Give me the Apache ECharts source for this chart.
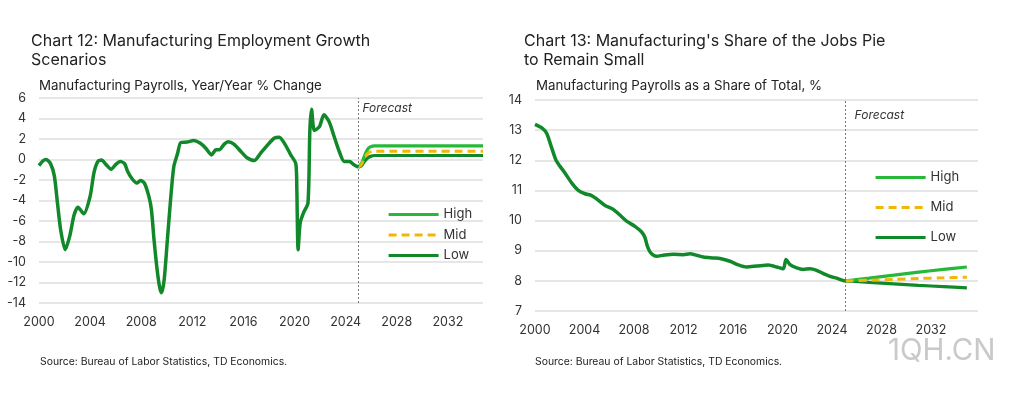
<!DOCTYPE html>
<html><head><meta charset="utf-8">
<script src="https://cdn.jsdelivr.net/npm/echarts@6/dist/echarts.min.js"></script>
<style>html,body{margin:0;padding:0;background:#fff}#c{width:1012px;height:396px}</style>
</head><body><div id="c"></div>
<script>
// ---- Chart 12 data: Manufacturing payrolls, y/y % change ----
var leftYears = [2000.0, 2000.3, 2000.55, 2000.9, 2001.2, 2001.45, 2001.7, 2002.05, 2002.4, 2002.75, 2003.05, 2003.5, 2004.0, 2004.3, 2004.6, 2004.9, 2005.25, 2005.65, 2006.0, 2006.35, 2006.7, 2006.95, 2007.3, 2007.65, 2007.95, 2008.25, 2008.6, 2008.8, 2009.0, 2009.25, 2009.45, 2009.6, 2009.8, 2010.05, 2010.3, 2010.55, 2010.85, 2011.1, 2011.6, 2012.1, 2012.6, 2013.05, 2013.5, 2013.85, 2014.1, 2014.5, 2014.8, 2015.25, 2015.8, 2016.25, 2016.85, 2017.35, 2017.9, 2018.4, 2018.8, 2019.2, 2019.7, 2020.1, 2020.18, 2020.28, 2020.44, 2020.7, 2021.05, 2021.2, 2021.33, 2021.55, 2021.95, 2022.3, 2022.7, 2023.1, 2023.5, 2023.9, 2024.3, 2024.65, 2025.0];
var leftValues = [-0.6, -0.15, 0.0, -0.4, -1.6, -4.3, -6.9, -8.8, -7.5, -5.4, -4.65, -5.3, -3.6, -1.3, -0.2, -0.05, -0.5, -0.95, -0.5, -0.2, -0.4, -1.2, -1.9, -2.3, -2.05, -2.3, -3.6, -4.9, -7.8, -10.8, -12.5, -13.0, -11.7, -7.8, -3.9, -0.7, 0.6, 1.66, 1.7, 1.85, 1.6, 1.1, 0.45, 0.94, 0.94, 1.5, 1.72, 1.5, 0.78, 0.2, -0.1, 0.62, 1.43, 2.08, 2.18, 1.6, 0.46, -0.42, -2.96, -8.8, -6.2, -5.2, -4.26, 2.9, 4.9, 2.83, 3.2, 4.36, 3.7, 2.24, 0.78, -0.2, -0.2, -0.52, -0.75];
var leftFcYears = [2025.0, 2025.25, 2025.5, 2025.75, 2026.0, 2026.25, 2034.75];
var leftHigh = [-0.75, -0.35, 0.45, 1.05, 1.27, 1.33, 1.33];
var leftMid  = [-0.75, -0.45, 0.2, 0.62, 0.77, 0.81, 0.81];
var leftLow  = [-0.75, -0.6, -0.15, 0.18, 0.33, 0.39, 0.39];

// ---- Chart 13 data: Manufacturing payrolls as share of total, % ----
var rightYears = [2000.0, 2000.6, 2000.95, 2001.35, 2001.7, 2001.97, 2002.42, 2002.96, 2003.5, 2004.04, 2004.58, 2004.98, 2005.66, 2006.33, 2006.81, 2007.4, 2008.08, 2008.62, 2008.89, 2009.08, 2009.35, 2009.83, 2010.37, 2011.18, 2011.99, 2012.53, 2013.06, 2013.6, 2014.41, 2014.95, 2015.76, 2016.43, 2017.1, 2017.91, 2018.86, 2019.53, 2020.07, 2020.28, 2020.61, 2021.15, 2021.68, 2022.22, 2022.76, 2023.3, 2023.84, 2024.38, 2024.92, 2025.1];
var rightValues = [13.19, 13.06, 12.89, 12.41, 12.0, 11.83, 11.58, 11.25, 11.0, 10.89, 10.83, 10.72, 10.5, 10.37, 10.2, 9.98, 9.81, 9.62, 9.43, 9.15, 8.93, 8.82, 8.85, 8.88, 8.87, 8.9, 8.85, 8.79, 8.76, 8.74, 8.65, 8.53, 8.46, 8.49, 8.53, 8.46, 8.4, 8.71, 8.54, 8.43, 8.38, 8.4, 8.35, 8.24, 8.15, 8.09, 8.01, 8.0];
var rightFcYears = [2025.1, 2027, 2029, 2031, 2033, 2034.9];
var rightHigh = [8.0, 8.09, 8.19, 8.29, 8.38, 8.46];
var rightMid  = [8.0, 8.02, 8.05, 8.08, 8.10, 8.12];
var rightLow  = [8.0, 7.95, 7.90, 7.85, 7.81, 7.77];

var forecastStart = [2025.0, 2025.1];
var scenarioNames = ['High', 'Mid', 'Low'];
var titles = ['Chart 12: Manufacturing Employment Growth\nScenarios', "Chart 13: Manufacturing's Share of the Jobs Pie\nto Remain Small"];
var subtitles = ['Manufacturing Payrolls, Year/Year % Change', 'Manufacturing Payrolls as a Share of Total, %'];
var sourceText = 'Source: Bureau of Labor Statistics, TD Economics.';
var watermark = '1QH.CN';

var FONT = 'Inter, "Open Sans", sans-serif';
var DARK = '#11892a', BRIGHT = '#27b83a', GOLD = '#f2b705';

function zip(xs, ys) { return xs.map(function (x, i) { return [x, ys[i]]; }); }

var chart = echarts.init(document.getElementById('c'), null, {renderer: 'canvas'});

function xAxisCfg(gi, max) {
  return {
    type: 'value', gridIndex: gi, min: 2000, max: max, interval: 4,
    axisLine: {show: false}, axisTick: {show: false}, splitLine: {show: false},
    axisLabel: {showMaxLabel: false, color: '#333', fontFamily: FONT, fontSize: 12.5, margin: 13,
      formatter: function (v) { return String(Math.round(v)); }}
  };
}
function yAxisCfg(gi, min, max, interval) {
  return {
    type: 'value', gridIndex: gi, min: min, max: max, interval: interval,
    axisLine: {show: false}, axisTick: {show: false},
    splitLine: {show: true, lineStyle: {color: '#dedede', width: 1.5}},
    axisLabel: {color: '#333', fontFamily: FONT, fontSize: 12.5, margin: 13}
  };
}
function fcMark(x) {
  return {silent: true, symbol: 'none', label: {show: false},
    lineStyle: {color: '#777', type: [2, 2], width: 1}, data: [{xAxis: x}]};
}
function scen(name, gi, xs, ys, color, dashed) {
  return {
    name: name, type: 'line', xAxisIndex: gi, yAxisIndex: gi, data: zip(xs, ys),
    symbol: 'none', showSymbol: false, smooth: 0.3, z: dashed ? 4 : 3,
    lineStyle: {color: color, width: dashed ? 3 : 3.2, type: dashed ? [8, 5] : 'solid'},
    itemStyle: {color: color}
  };
}
function titleCfg(text, left, top, size, lh) {
  var ts = {fontSize: size, fontWeight: 'normal', color: '#222', fontFamily: FONT};
  if (lh) ts.lineHeight = lh;
  return {text: text, left: left, top: top, padding: 0, textStyle: ts};
}
function legendCfg(left, top, gap) {
  return {data: scenarioNames, orient: 'vertical', left: left, top: top, padding: 0,
    itemWidth: 50, itemHeight: 14, itemGap: gap, selectedMode: false,
    itemStyle: {opacity: 0}, lineStyle: {width: 3.2},
    textStyle: {fontSize: 13, color: '#333', fontFamily: FONT}};
}

var option = {
  animation: false,
  textStyle: {fontFamily: FONT},
  title: [
    titleCfg(titles[0], 31, 31, 16, 19.5),
    titleCfg(subtitles[0], 39, 79, 13.3),
    titleCfg(titles[1], 524, 31, 16, 19.5),
    titleCfg(subtitles[1], 536, 79, 13.3),
    titleCfg(sourceText, 40, 357, 10.4),
    titleCfg(sourceText, 535, 357, 10.4),
    {text: watermark, left: 888, top: 336, padding: 0, textStyle: {fontSize: 29.5, fontWeight: 'normal', color: '#c9c9c9', fontFamily: FONT}}
  ],
  grid: [
    {left: 39, right: 529, top: 98, bottom: 93},
    {left: 535, right: 34, top: 100, bottom: 85}
  ],
  xAxis: [xAxisCfg(0, 2034.75), xAxisCfg(1, 2035.8)],
  yAxis: [yAxisCfg(0, -14, 6, 2), yAxisCfg(1, 7, 14, 1)],
  legend: [legendCfg(387, 208, 7.5), legendCfg(874, 171, 17)],
  series: [
    {name: 'Historical', type: 'line', xAxisIndex: 0, yAxisIndex: 0, data: zip(leftYears, leftValues),
      symbol: 'none', smooth: 0.25, lineStyle: {color: DARK, width: 3.5}, z: 5, markLine: fcMark(forecastStart[0])},
    scen('Low', 0, leftFcYears, leftLow, DARK, false),
    scen('High', 0, leftFcYears, leftHigh, BRIGHT, false),
    scen('Mid', 0, leftFcYears, leftMid, GOLD, true),
    {name: 'Historical', type: 'line', xAxisIndex: 1, yAxisIndex: 1, data: zip(rightYears, rightValues),
      symbol: 'none', smooth: 0.25, lineStyle: {color: DARK, width: 3.5}, z: 5, markLine: fcMark(forecastStart[1])},
    scen('Low', 1, rightFcYears, rightLow, DARK, false),
    scen('High', 1, rightFcYears, rightHigh, BRIGHT, false),
    scen('Mid', 1, rightFcYears, rightMid, GOLD, true)
  ]
};
chart.setOption(option);

// "Forecast" labels placed next to the forecast divider, via the axes
var p0 = chart.convertToPixel({gridIndex: 0}, [forecastStart[0], 6]);
var p1 = chart.convertToPixel({gridIndex: 1}, [forecastStart[1], 14]);
chart.setOption({graphic: [
  {type: 'text', left: p0[0] + 4, top: p0[1] + 4, style: {text: 'Forecast', fontStyle: 'italic', fontSize: 12, fill: '#333', fontFamily: FONT}},
  {type: 'text', left: p1[0] + 9, top: p1[1] + 9, style: {text: 'Forecast', fontStyle: 'italic', fontSize: 12, fill: '#333', fontFamily: FONT}}
]});
</script>
</body></html>
